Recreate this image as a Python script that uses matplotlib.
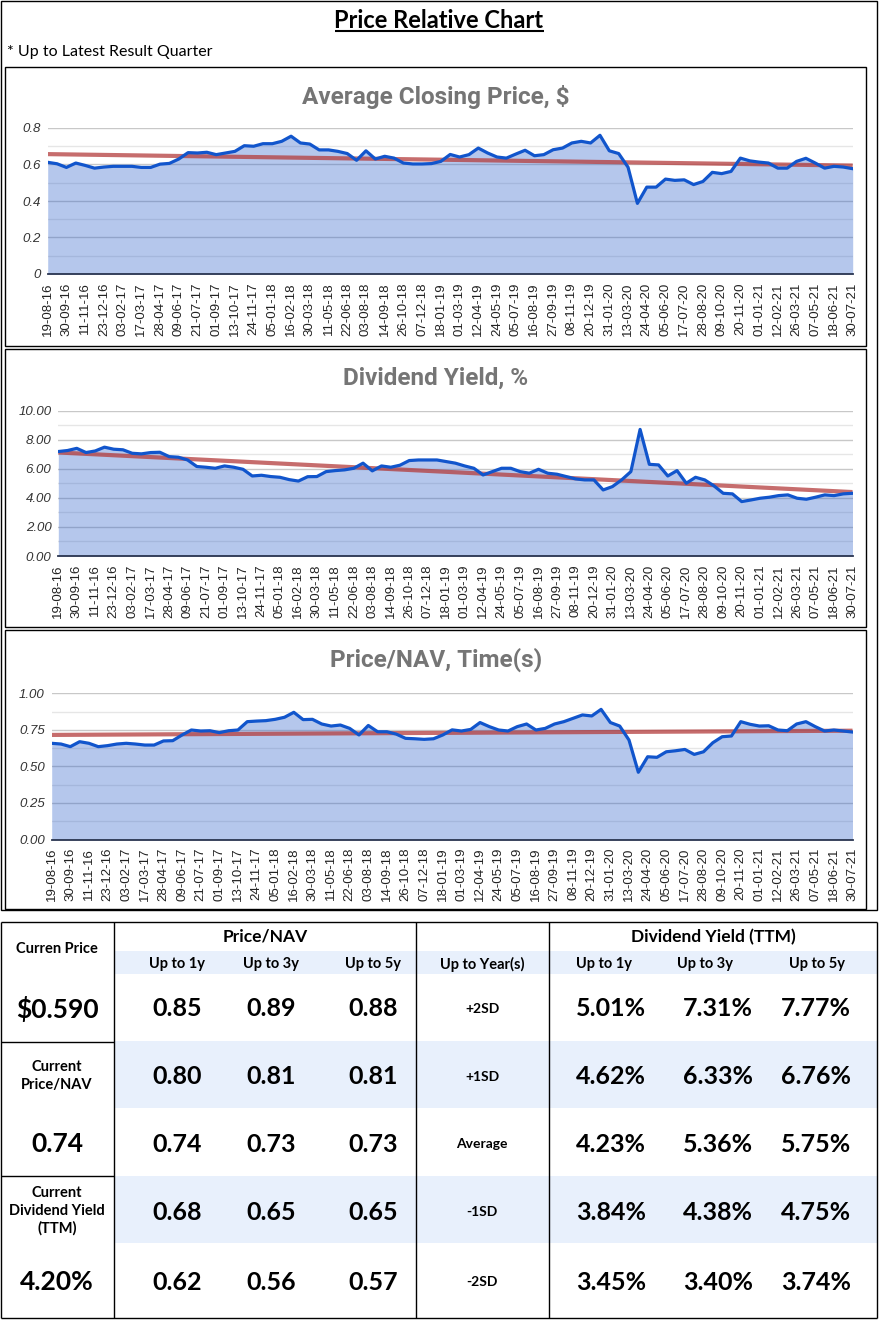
import numpy as np
import matplotlib
matplotlib.use('Agg')
import matplotlib.pyplot as plt
from matplotlib.patches import Rectangle

# x labels, one every second sample (samples are 3 weeks apart)
date_labels = ['19-08-16', '30-09-16', '11-11-16', '23-12-16', '03-02-17', '17-03-17',
               '28-04-17', '09-06-17', '21-07-17', '01-09-17', '13-10-17', '24-11-17',
               '05-01-18', '16-02-18', '30-03-18', '11-05-18', '22-06-18', '03-08-18',
               '14-09-18', '26-10-18', '07-12-18', '18-01-19', '01-03-19', '12-04-19',
               '24-05-19', '05-07-19', '16-08-19', '27-09-19', '08-11-19', '20-12-19',
               '31-01-20', '13-03-20', '24-04-20', '05-06-20', '17-07-20', '28-08-20',
               '09-10-20', '20-11-20', '01-01-21', '12-02-21', '26-03-21', '07-05-21',
               '18-06-21', '30-07-21']

price = [0.612, 0.604, 0.584, 0.608, 0.595, 0.58, 0.586, 0.59, 0.59, 0.59, 0.584, 0.584,
         0.602, 0.606, 0.63, 0.665, 0.663, 0.667, 0.654, 0.663, 0.672, 0.703, 0.70, 0.714,
         0.714, 0.727, 0.755, 0.718, 0.712, 0.68, 0.68, 0.672, 0.66, 0.623, 0.675, 0.63,
         0.645, 0.635, 0.608, 0.603, 0.603, 0.605,
         0.617, 0.655, 0.641, 0.654, 0.69, 0.663, 0.641, 0.635, 0.657, 0.678, 0.648, 0.654,
         0.681, 0.69, 0.718, 0.727, 0.718, 0.76, 0.675, 0.66, 0.585, 0.387, 0.476, 0.476,
         0.52, 0.513, 0.516, 0.49, 0.507, 0.557, 0.55, 0.562, 0.635, 0.62, 0.613, 0.608,
         0.58, 0.58, 0.617, 0.634, 0.608, 0.58, 0.59, 0.586, 0.577]

div_yield = [7.18, 7.25, 7.4, 7.11, 7.22, 7.48, 7.34, 7.3, 7.06, 7.02, 7.11, 7.13,
             6.83, 6.79, 6.6, 6.15, 6.1, 6.03, 6.19, 6.1, 5.96, 5.5, 5.55, 5.46,
             5.41, 5.25, 5.15, 5.45, 5.46, 5.8, 5.87, 5.92, 6.03, 6.38, 5.85, 6.19,
             6.1, 6.24, 6.56, 6.6, 6.6, 6.6,
             6.49, 6.38, 6.19, 6.03, 5.57, 5.8, 6.03, 6.03, 5.8, 5.69, 5.96, 5.69,
             5.62, 5.46, 5.3, 5.23, 5.23, 4.54, 4.77, 5.23, 5.8, 8.7, 6.3, 6.26,
             5.5, 5.87, 5.0, 5.41, 5.23, 4.82, 4.31, 4.27, 3.74, 3.85, 3.97, 4.04,
             4.15, 4.2, 3.97, 3.9, 4.04, 4.2, 4.15, 4.27, 4.31]

price_nav = [0.658, 0.653, 0.635, 0.669, 0.658, 0.635, 0.642, 0.653, 0.658, 0.653, 0.646, 0.646,
             0.674, 0.676, 0.715, 0.749, 0.742, 0.744, 0.731, 0.744, 0.749, 0.806, 0.81, 0.813,
             0.822, 0.836, 0.87, 0.82, 0.822, 0.79, 0.776, 0.783, 0.76, 0.715, 0.78, 0.737,
             0.737, 0.721, 0.692, 0.689, 0.685, 0.689,
             0.715, 0.75, 0.742, 0.753, 0.80, 0.772, 0.749, 0.742, 0.772, 0.79, 0.749, 0.76,
             0.79, 0.806, 0.829, 0.852, 0.845, 0.89, 0.80, 0.776, 0.68, 0.46, 0.566, 0.562,
             0.60, 0.607, 0.616, 0.582, 0.60, 0.662, 0.703, 0.708, 0.806, 0.788, 0.776, 0.778,
             0.749, 0.744, 0.79, 0.806, 0.772, 0.742, 0.749, 0.742, 0.735]

# table
col_heads = ['Up to 1y', 'Up to 3y', 'Up to 5y']
row_names = ['+2SD', '+1SD', 'Average', '-1SD', '-2SD']
pnav_table = [['0.85', '0.89', '0.88'],
              ['0.80', '0.81', '0.81'],
              ['0.74', '0.73', '0.73'],
              ['0.68', '0.65', '0.65'],
              ['0.62', '0.56', '0.57']]
dy_table = [['5.01%', '7.31%', '7.77%'],
            ['4.62%', '6.33%', '6.76%'],
            ['4.23%', '5.36%', '5.75%'],
            ['3.84%', '4.38%', '4.75%'],
            ['3.45%', '3.40%', '3.74%']]
current_price = '$0.590'
current_pnav = '0.74'
current_dy = '4.20%'

W, H = 880, 1321
fig = plt.figure(figsize=(W / 100, H / 100), dpi=100)
bg = fig.add_axes([0, 0, 1, 1])
bg.set_xlim(0, W)
bg.set_ylim(H, 0)
bg.axis('off')


def rect(x0, y0, x1, y1):
    return [x0 / W, 1 - y1 / H, (x1 - x0) / W, (y1 - y0) / H]


def hline(y, x0, x1, lw=1.0):
    bg.plot([x0, x1], [y, y], color='black', lw=lw, solid_capstyle='butt')


def vline(x, y0, y1, lw=1.0):
    bg.plot([x, x], [y0, y1], color='black', lw=lw, solid_capstyle='butt')


TXT = 'Lato'

# header
t = bg.text(439, 20, 'Price Relative Chart', ha='center', va='center',
            fontsize=17, fontweight='bold', family=TXT)
bg.text(7, 52, '* Up to Latest Result Quarter', ha='left', va='center',
        fontsize=11.5, family=TXT)

# frames
bg.add_patch(Rectangle((1, 1), 876, 909, fill=False, ec='black', lw=1))
for y0, y1 in [(67, 346), (349, 627), (630, 909)]:
    bg.add_patch(Rectangle((5, y0), 861, y1 - y0, fill=False, ec='black', lw=1))


def draw_chart(values, box, top, step, fmt, title, title_y):
    ax = fig.add_axes(rect(*box))
    x = np.arange(len(values))
    v = np.array(values)
    ax.fill_between(x, v, color='#3366cc', alpha=0.36, lw=0, zorder=2)
    k, b = np.polyfit(x, v, 1)
    ends = x[[0, -1]]
    ax.plot(ends, k * ends + b, color='#b43c3c', alpha=0.75, lw=3, zorder=3,
            solid_capstyle='butt')
    ax.plot(x, v, color='#1155cc', lw=2.3, zorder=4, solid_joinstyle='round')
    ax.set_xlim(0, len(values) - 1)
    ax.set_ylim(0, top)
    ax.set_yticks(np.arange(0, top + step / 2, step))
    ax.set_yticks(np.arange(step / 2, top, step), minor=True)
    ax.set_yticklabels([fmt % t for t in np.arange(0, top + step / 2, step)],
                       fontstyle='italic', fontsize=9.5, family='Liberation Sans',
                       color='#333333')
    ax.grid(True, axis='y', which='major', color='#c8c8c8', lw=1)
    ax.grid(True, axis='y', which='minor', color='#e6e6e6', lw=1)
    ax.set_axisbelow(True)
    ax.set_xticks(x[::2])
    ax.set_xticklabels(date_labels, rotation=90, fontsize=9.5,
                       family='Liberation Sans', color='#222222')
    ax.tick_params(axis='x', length=0, pad=6)
    ax.tick_params(axis='y', which='both', length=0, pad=5)
    for s in ['top', 'right', 'left']:
        ax.spines[s].set_visible(False)
    ax.spines['bottom'].set_color('#2a3550')
    ax.spines['bottom'].set_linewidth(1.3)
    ax.spines['bottom'].set_zorder(5)
    ax.patch.set_alpha(0)
    bg.text(436, title_y, title, ha='center', va='center', fontsize=17.5,
            fontweight='bold', family='Roboto', color='#757575')


draw_chart(price, (47.7, 128, 852.7, 274), 0.8, 0.2, '%g',
           'Average Closing Price, $', 97)
draw_chart(div_yield, (58.3, 410.5, 852.5, 556), 10.0, 2.0, '%.2f',
           'Dividend Yield, %', 378)
draw_chart(price_nav, (51.7, 693.3, 852.5, 839.5), 1.0, 0.25, '%.2f',
           'Price/NAV, Time(s)', 660)

# table backgrounds
band = '#e8f0fc'
bg.add_patch(Rectangle((114, 951), 763, 23, color=band, lw=0))
bg.add_patch(Rectangle((114, 1041), 763, 67, color=band, lw=0))
bg.add_patch(Rectangle((114, 1176), 763, 67, color=band, lw=0))

# table lines
hline(922, 1, 877)
hline(1318, 1, 877)
for xv in [1, 114, 416, 549, 877]:
    vline(xv, 922, 1318)
hline(1042, 1, 114)
hline(1176, 1, 114)

bg.text(265, 937, 'Price/NAV', ha='center', va='center', fontsize=12.5,
        fontweight='bold', family=TXT)
bg.text(713, 937, 'Dividend Yield (TTM)', ha='center', va='center', fontsize=12.5,
        fontweight='bold', family=TXT)

pnav_x = [177, 271, 373]
dy_head_x = [604, 705, 817]
dy_x = [611, 718, 816]
for j in range(3):
    bg.text(pnav_x[j], 964, col_heads[j], ha='center', va='center', fontsize=10.5,
            fontweight='bold', family=TXT)
    bg.text(dy_head_x[j], 964, col_heads[j], ha='center', va='center', fontsize=10.5,
            fontweight='bold', family=TXT)
bg.text(482, 964, 'Up to Year(s)', ha='center', va='center', fontsize=10.5,
        fontweight='bold', family=TXT)

row_y = [1009, 1077, 1144, 1212, 1282]
for i in range(5):
    bg.text(482, row_y[i], row_names[i], ha='center', va='center', fontsize=10,
            fontweight='bold', family=TXT)
    for j in range(3):
        bg.text(pnav_x[j], row_y[i], pnav_table[i][j], ha='center', va='center',
                fontsize=18, fontweight='bold', family=TXT)
        bg.text(dy_x[j], row_y[i], dy_table[i][j], ha='center', va='center',
                fontsize=18, fontweight='bold', family=TXT)

bg.text(57, 949, 'Curren Price', ha='center', va='center', fontsize=10.5,
        fontweight='bold', family=TXT)
bg.text(57, 1009, current_price, ha='center', va='center', fontsize=19,
        fontweight='bold', family=TXT)
bg.text(57, 1076, 'Current\nPrice/NAV', ha='center', va='center', fontsize=10.5,
        fontweight='bold', family=TXT, linespacing=1.4)
bg.text(57, 1211, 'Current\nDividend Yield\n(TTM)', ha='center', va='center',
        fontsize=10.5, fontweight='bold', family=TXT, linespacing=1.3)
bg.text(57, 1144, current_pnav, ha='center', va='center', fontsize=19,
        fontweight='bold', family=TXT)
bg.text(57, 1282, current_dy, ha='center', va='center', fontsize=19,
        fontweight='bold', family=TXT)

# underline the main title
fig.canvas.draw()
bb = t.get_window_extent(fig.canvas.get_renderer())
inv = bg.transData.inverted()
(ux0, uy0), (ux1, uy1) = inv.transform([[bb.x0, bb.y0], [bb.x1, bb.y1]])
hline(uy0 - 1, ux0, ux1, lw=1.5)

fig.savefig('out.png', dpi=100)
